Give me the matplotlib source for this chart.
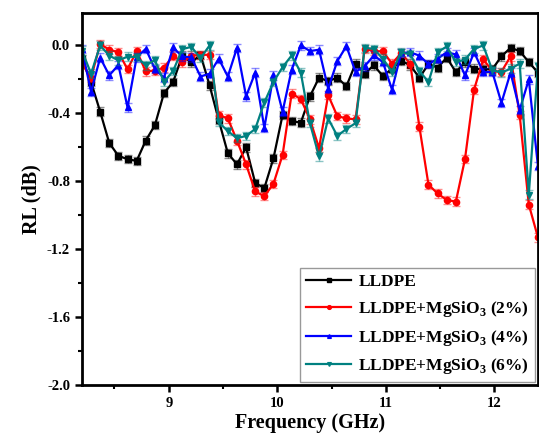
import numpy as np
import matplotlib
matplotlib.use('Agg')
import matplotlib.pyplot as plt
from matplotlib.ticker import MultipleLocator

plt.rcParams['font.family'] = 'Liberation Serif'
plt.rcParams['font.weight'] = 'bold'
plt.rcParams['mathtext.fontset'] = 'custom'
plt.rcParams['mathtext.rm'] = 'Liberation Serif:bold'
plt.rcParams['mathtext.bf'] = 'Liberation Serif:bold'

# frequency points, 8.2 - 12.4 GHz (51 points)
freq = np.linspace(8.2, 12.4, 51)

# RL values (dB)
rl_lldpe = [-0.08, -0.215, -0.39, -0.575, -0.65, -0.67, -0.68, -0.56, -0.47, -0.28,
            -0.215, -0.06, -0.10, -0.055, -0.235, -0.44, -0.635, -0.70, -0.60, -0.81,
            -0.84, -0.665, -0.41, -0.445, -0.455, -0.30, -0.19, -0.21, -0.19, -0.24,
            -0.107, -0.166, -0.117, -0.18, -0.137, -0.09, -0.117, -0.19, -0.11, -0.13,
            -0.072, -0.156, -0.10, -0.137, -0.14, -0.14, -0.064, -0.014, -0.033, -0.098,
            -0.16]
rl_2 = [-0.107, -0.19, 0.008, -0.025, -0.04, -0.14, -0.033, -0.152, -0.148, -0.13,
        -0.06, -0.10, -0.06, -0.055, -0.055, -0.41, -0.43, -0.56, -0.70, -0.86,
        -0.888, -0.815, -0.645, -0.283, -0.316, -0.435, -0.605, -0.293, -0.416, -0.43,
        -0.435, -0.02, -0.033, -0.035, -0.107, -0.045, -0.107, -0.478, -0.82, -0.872,
        -0.91, -0.92, -0.67, -0.26, -0.082, -0.15, -0.155, -0.064, -0.41, -0.937,
        -1.13]
rl_4 = [-0.02, -0.273, -0.072, -0.176, -0.115, -0.365, -0.07, -0.02, -0.138, -0.19,
        -0.012, -0.065, -0.07, -0.183, -0.166, -0.078, -0.183, -0.014, -0.30, -0.16,
        -0.485, -0.176, -0.39, -0.142, 0.0, -0.033, -0.025, -0.254, -0.092, -0.004,
        -0.156, -0.123, -0.059, -0.098, -0.26, -0.045, -0.04, -0.06, -0.11, -0.078,
        -0.04, -0.053, -0.176, -0.04, -0.156, -0.156, -0.338, -0.16, -0.38, -0.2,
        -0.71]
rl_6 = [-0.03, -0.166, 0.0, -0.06, -0.088, -0.066, -0.068, -0.117, -0.086, -0.215,
        -0.15, -0.022, -0.008, -0.075, 0.0, -0.452, -0.505, -0.546, -0.533, -0.492,
        -0.336, -0.215, -0.128, -0.059, -0.16, -0.458, -0.654, -0.43, -0.533, -0.492,
        -0.458, -0.014, -0.02, -0.078, -0.156, -0.04, -0.053, -0.15, -0.215, -0.04,
        -0.006, -0.098, -0.084, -0.02, 0.0, -0.146, -0.16, -0.137, -0.107, -0.878,
        -0.12]
err = 0.025

labels = ['LLDPE', r'LLDPE+MgSiO$_3$ (2%)', r'LLDPE+MgSiO$_3$ (4%)', r'LLDPE+MgSiO$_3$ (6%)']
colors = ['black', 'red', 'blue', '#008080']
markers = ['s', 'o', '^', 'v']

fig = plt.figure(figsize=(5.39, 4.40), dpi=100)
ax = fig.add_axes([0.152, 0.125, 0.846, 0.845])

for y, lab, c, m in zip([rl_lldpe, rl_2, rl_4, rl_6], labels, colors, markers):
    ax.errorbar(freq, y, yerr=err, fmt='none', ecolor=c, alpha=0.45,
                elinewidth=1, capsize=3, capthick=1)
    ax.plot(freq, y, color=c, marker=m, markersize=4.5, linewidth=1.6, label=lab)

ax.set_xlim(8.2, 12.4)
ax.set_ylim(-2.0, 0.19)
ax.xaxis.set_major_locator(MultipleLocator(1))
ax.xaxis.set_minor_locator(MultipleLocator(0.5))
ax.yaxis.set_major_locator(MultipleLocator(0.4))
ax.yaxis.set_minor_locator(MultipleLocator(0.2))
ax.yaxis.set_major_formatter(matplotlib.ticker.FormatStrFormatter('%.1f'))

for sp in ax.spines.values():
    sp.set_linewidth(2)
ax.tick_params(which='major', direction='out', length=5, width=1.8, labelsize=10.5)
ax.tick_params(which='minor', direction='out', length=3, width=1.5)

ax.set_xlabel('Frequency (GHz)', fontsize=14.5, fontweight='bold', labelpad=2)
ax.set_ylabel('RL (dB)', fontsize=14.5, fontweight='bold', labelpad=4)

leg = ax.legend(loc='lower right', fontsize=12.5, frameon=True, fancybox=False,
                edgecolor='gray', handlelength=2.6, labelspacing=0.5,
                borderaxespad=0.15, handletextpad=0.4, markerscale=0.6,
                borderpad=0.35)
leg.get_frame().set_linewidth(1)

fig.savefig('out.png', dpi=100)
